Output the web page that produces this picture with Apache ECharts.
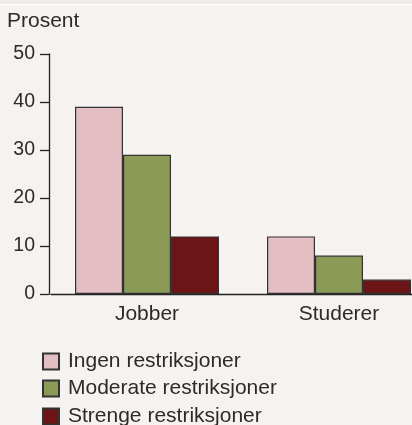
<!DOCTYPE html>
<html><head><meta charset="utf-8">
<script src="https://cdn.jsdelivr.net/npm/echarts@6/dist/echarts.min.js"></script>
<style>html,body{margin:0;padding:0;background:#f5f2ef;overflow:hidden;width:412px;height:425px}#c{width:435px;height:425px}</style>
</head><body><div id="c"></div>
<script>
const categories = ['Jobber', 'Studerer'];
const seriesNames = ['Ingen restriksjoner', 'Moderate restriksjoner', 'Strenge restriksjoner'];
const ingen = [39, 12];
const moderate = [29, 8];
const strenge = [12, 3];
const yTicks = [0, 10, 20, 30, 40, 50];
const colors = ['#e3bfc3', '#8b9a57', '#6d1416'];
const values = [ingen, moderate, strenge];
const font = 'Liberation Sans';
const textColor = '#2b2b2b';
const legendTops = [351, 378, 406];
const chart = echarts.init(document.getElementById('c'));
chart.setOption({
  backgroundColor: '#f5f2ef',
  animation: false,
  textStyle: {fontFamily: font},
  graphic: [
    {type: 'rect', shape: {x: 0, y: 0, width: 435, height: 4}, style: {fill: '#eeebe9'}, silent: true},
    {type: 'rect', shape: {x: 0, y: 4, width: 435, height: 1}, style: {fill: '#ffffff'}, silent: true}
  ],
  title: {text: 'Prosent', left: 7, top: 11, padding: 0,
    textStyle: {fontFamily: font, fontSize: 21, fontWeight: 'normal', color: textColor}},
  grid: {left: 51, right: 0, top: 54, height: 240, containLabel: false},
  legend: seriesNames.map((n, i) => ({
    orient: 'vertical', left: 42, top: legendTops[i], itemWidth: 16, itemHeight: 16,
    icon: 'rect', padding: 0,
    textStyle: {fontFamily: font, fontSize: 21, color: textColor, padding: [0, 0, 0, 4]},
    data: [n]
  })),
  xAxis: {
    type: 'category', data: categories,
    axisLine: {lineStyle: {color: '#222', width: 1.3}},
    axisTick: {show: false},
    axisLabel: {fontFamily: font, fontSize: 21, color: textColor, margin: 10}
  },
  yAxis: {
    type: 'value', min: 0, max: 50, interval: 10, offset: 2,
    axisLine: {show: true, lineStyle: {color: '#222', width: 1.3}},
    axisTick: {show: true, length: 9, lineStyle: {color: '#222', width: 1.3}},
    splitLine: {show: false},
    axisLabel: {fontFamily: font, fontSize: 19.5, color: textColor, margin: 14,
      formatter: v => yTicks.includes(v) ? String(v) : ''}
  },
  series: values.map((d, i) => ({
    name: seriesNames[i], type: 'bar', data: d,
    barGap: '0%', barCategoryGap: '25%',
    itemStyle: {color: colors[i], borderColor: '#333', borderWidth: 1.2}
  }))
});
</script></body></html>
